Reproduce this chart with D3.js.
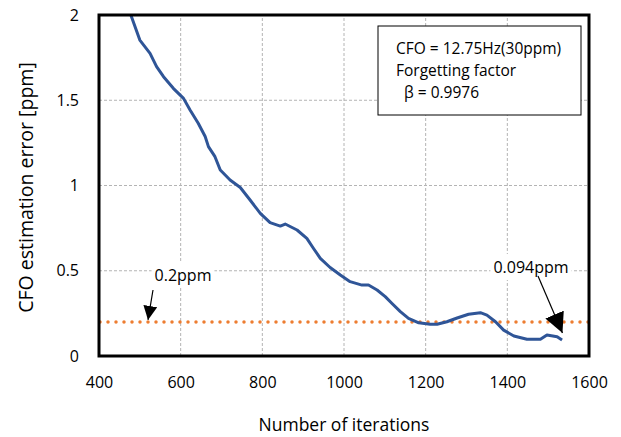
<!DOCTYPE html>
<html>
<head>
  <style>
    body{
      margin:0;
      background:#fff;
      font-family: "Open Sans", sans-serif;
    }
    .grid line{
      stroke:#b4b4b4;
      stroke-width:1px;
      stroke-dasharray:3,2;
    }
    .tick-label{
      font-size:16px;
      fill:#000;
    }
    .cfo-line{
      fill:none;
      stroke:#2f5597;
      stroke-width:3px;
      stroke-linejoin:round;
    }
    .ref-line{
      stroke:#ed7d31;
      stroke-width:3.5px;
      stroke-linecap:round;
      stroke-dasharray:0,8;
    }
  </style>
  <script src="https://d3js.org/d3.v7.min.js"></script>
</head>
<body>
<div class="chart"></div>
<script>
// data
const iterations = [478, 500, 525, 541, 558, 582, 607, 623, 643, 660, 668, 684, 697, 721, 746, 770, 795, 819, 844, 856, 885, 909, 925, 942, 966, 991, 1015, 1044, 1060, 1081, 1101, 1117, 1138, 1158, 1183, 1211, 1228, 1252, 1277, 1305, 1334, 1350, 1371, 1391, 1416, 1448, 1481, 1497, 1522, 1534];
const errorPpm = [2.0, 1.853, 1.775, 1.697, 1.638, 1.57, 1.511, 1.443, 1.365, 1.287, 1.228, 1.169, 1.091, 1.032, 0.988, 0.915, 0.837, 0.782, 0.762, 0.774, 0.739, 0.69, 0.632, 0.573, 0.519, 0.475, 0.436, 0.416, 0.416, 0.387, 0.348, 0.309, 0.26, 0.221, 0.195, 0.186, 0.186, 0.201, 0.223, 0.245, 0.254, 0.24, 0.201, 0.152, 0.117, 0.098, 0.098, 0.123, 0.113, 0.094];
const xTicks = [400, 600, 800, 1000, 1200, 1400, 1600];
const yTicks = [0, 0.5, 1, 1.5, 2];
const refLevel = 0.2;
const infoLines = ['CFO = 12.75Hz(30ppm)', 'Forgetting factor', '\u00a0\u00a0\u03b2 = 0.9976'];

const width = 621, height = 437;
const margin = {top:15, right:32, bottom:81, left:99};

const svg = d3.select('.chart').append('svg')
  .attr('width', width)
  .attr('height', height);

const x = d3.scaleLinear().domain([400, 1600]).range([margin.left, width - margin.right]);
const y = d3.scaleLinear().domain([0, 2]).range([height - margin.bottom, margin.top]);

// grid
const grid = svg.append('g').attr('class', 'grid');
grid.selectAll('.vg').data(xTicks.slice(1, -1)).join('line')
  .attr('x1', d => x(d)).attr('x2', d => x(d))
  .attr('y1', y(0)).attr('y2', y(2));
grid.selectAll('.hg').data(yTicks.slice(1, -1)).join('line')
  .attr('x1', x(400)).attr('x2', x(1600))
  .attr('y1', d => y(d)).attr('y2', d => y(d));

// tick labels
const xAxis = svg.append('g')
  .attr('transform', `translate(0,${y(0)})`)
  .call(d3.axisBottom(x).tickValues(xTicks).tickSize(0).tickPadding(21).tickFormat(d3.format('d')));
xAxis.select('.domain').remove();
xAxis.selectAll('text').attr('class', 'tick-label').attr('font-family', '"Open Sans", sans-serif');

const yAxis = svg.append('g')
  .attr('transform', `translate(${x(400)},0)`)
  .call(d3.axisLeft(y).tickValues(yTicks).tickSize(0).tickPadding(20).tickFormat(d => d));
yAxis.select('.domain').remove();
yAxis.selectAll('text').attr('class', 'tick-label').attr('font-family', '"Open Sans", sans-serif');

// 0.2 ppm reference
svg.append('line')
  .attr('class', 'ref-line')
  .attr('x1', x(400) + 1).attr('x2', x(1600))
  .attr('y1', y(refLevel)).attr('y2', y(refLevel));

// curve
const line = d3.line()
  .x((d, i) => x(iterations[i]))
  .y(d => y(d))
  .curve(d3.curveLinear);
svg.append('path')
  .attr('class', 'cfo-line')
  .attr('d', line(errorPpm));

// frame
svg.append('rect')
  .attr('x', x(400)).attr('y', y(2))
  .attr('width', x(1600) - x(400)).attr('height', y(0) - y(2))
  .attr('fill', 'none').attr('stroke', '#000').attr('stroke-width', 3);

// arrow markers
const defs = svg.append('defs');
defs.append('marker')
  .attr('id', 'arrow')
  .attr('viewBox', '0 0 10 10')
  .attr('refX', 10).attr('refY', 5)
  .attr('markerUnits', 'userSpaceOnUse')
  .attr('markerWidth', 14).attr('markerHeight', 14)
  .attr('orient', 'auto')
  .append('path').attr('d', 'M0,0L10,5L0,10z').attr('fill', '#000');

defs.append('marker')
  .attr('id', 'arrowBig')
  .attr('viewBox', '0 0 10 10')
  .attr('refX', 10).attr('refY', 5)
  .attr('markerUnits', 'userSpaceOnUse')
  .attr('markerWidth', 20).attr('markerHeight', 20)
  .attr('orient', 'auto')
  .append('path').attr('d', 'M0,0L10,5L0,10z').attr('fill', '#000');

// annotations with white backgrounds
function label(txt, cx, cy){
  const g = svg.append('g');
  const t = g.append('text')
    .attr('x', cx).attr('y', cy)
    .attr('text-anchor', 'middle')
    .attr('dominant-baseline', 'central')
    .attr('font-size', 16)
    .text(txt);
  const b = t.node().getBBox();
  g.insert('rect', 'text')
    .attr('x', b.x - 3).attr('y', b.y - 2)
    .attr('width', b.width + 6).attr('height', b.height + 4)
    .attr('fill', '#fff');
}
label('0.2ppm', 183, 275);
svg.append('line')
  .attr('x1', 153).attr('y1', 290)
  .attr('x2', x(520)).attr('y2', y(refLevel) - 2)
  .attr('stroke', '#000').attr('stroke-width', 1.2)
  .attr('marker-end', 'url(#arrow)');

label('0.094ppm', 531, 267);
svg.append('line')
  .attr('x1', 538).attr('y1', 276)
  .attr('x2', x(1535)).attr('y2', y(errorPpm[errorPpm.length - 1]) - 7)
  .attr('stroke', '#000').attr('stroke-width', 1.2)
  .attr('marker-end', 'url(#arrowBig)');

// info box
const info = svg.append('g');
info.append('rect')
  .attr('x', 378).attr('y', 26).attr('width', 203).attr('height', 89)
  .attr('fill', '#fff').attr('stroke', '#000').attr('stroke-width', 1);
info.selectAll('text').data(infoLines).join('text')
  .attr('x', 396)
  .attr('y', (d, i) => 48 + i * 22)
  .attr('dominant-baseline', 'central')
  .attr('font-size', 15.5)
  .text(d => d);

// axis titles
svg.append('text')
  .attr('x', (x(400) + x(1600)) / 2).attr('y', 424)
  .attr('text-anchor', 'middle')
  .attr('dominant-baseline', 'central')
  .attr('font-size', 17.5)
  .text('Number of iterations');

svg.append('text')
  .attr('transform', `translate(25,${(y(0) + y(2)) / 2 + 2}) rotate(-90)`)
  .attr('text-anchor', 'middle')
  .attr('dominant-baseline', 'central')
  .attr('font-size', 19.5)
  .text('CFO estimation error [ppm]');
</script>
</body>
</html>
